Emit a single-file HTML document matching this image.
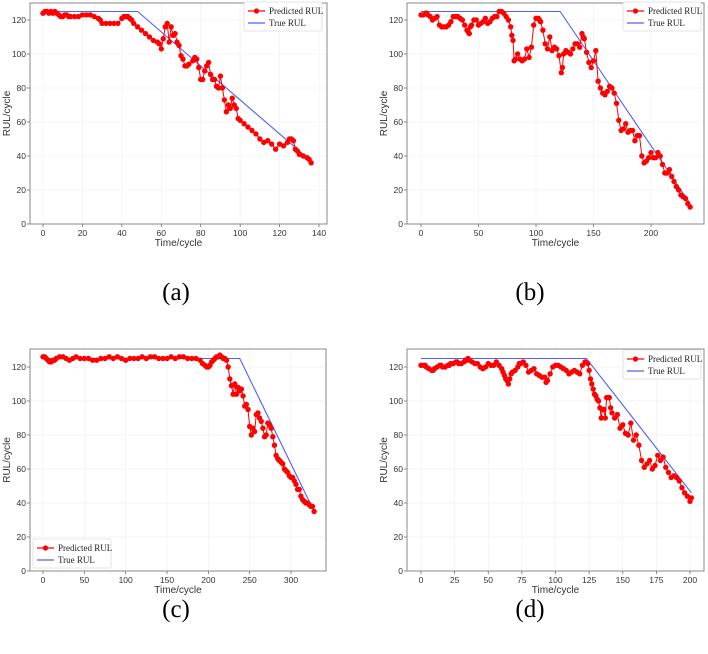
<!DOCTYPE html>
<html><head><meta charset="utf-8"><style>
body{margin:0;background:#fff;width:708px;height:654px;overflow:hidden}
svg{display:block}
</style></head><body>
<svg id="fig" width="708" height="654" xmlns="http://www.w3.org/2000/svg"></svg>
<script>
const aX=[0,1,2,3,4,5,6,7,8,9,10,11,12,13,14,16,18,20,22,24,26,28,29,30,32,34,36,38,40,41,42,43,44,45,46,48,50,52,54,56,58,59,60,61,62,63,64,65,66,67,68,69,70,71,72,73,74,76,77,78,79,80,81,82,83,84,85,86,87,88,89,90,91,92,93,94,95,96,97,98,99,100,102,104,106,108,110,112,114,116,118,120,122,124,125,126,127,128,129,130,132,134,135,136];
const aY=[124,125,125,124,125,124,125,124,123,122,122,123,123,122,122,122,122,123,123,123,122,121,120,118,118,118,118,118,121,122,122,122,121,120,118,116,114,112,110,108,107,106,103,109,116,118,107,116,111,112,107,105,99,97,93,93,94,96,98,97,92,85,85,90,93,95,88,85,85,81,80,87,80,73,66,70,68,74,70,68,62,61,59,57,55,53,50,48,49,47,44,47,46,48,50,50,49,44,43,41,40,39,38,36];
const aTrueX=[0,48,136];
const aTrueY=[125,125,37];
const bX=[0,2,4,5,6,8,10,12,14,16,18,20,22,24,26,28,30,32,34,36,38,40,41,42,43,44,46,48,50,52,54,56,58,60,62,64,66,68,70,72,74,76,78,79,80,81,82,84,86,88,90,92,94,96,98,100,102,103,104,106,108,110,112,114,116,118,120,122,123,124,126,128,130,132,134,136,138,140,141,142,144,146,148,150,152,154,156,158,160,162,164,166,168,170,172,174,176,178,180,182,184,186,188,190,192,194,196,198,200,202,204,206,208,210,212,214,216,218,220,222,224,226,228,230,232,234];
const bY=[123,123,124,124,123,122,120,121,122,117,116,116,116,117,119,122,122,122,121,120,117,114,113,112,116,117,120,120,117,118,119,121,118,119,121,122,122,125,125,124,122,120,116,111,108,96,97,100,97,96,97,103,98,104,117,121,121,120,119,114,106,103,110,102,104,103,99,89,92,100,102,101,100,103,106,106,104,112,110,109,101,95,92,96,102,84,80,77,76,78,81,80,77,71,61,55,56,59,54,55,55,49,52,52,40,36,37,39,42,39,39,42,40,35,30,30,32,28,25,22,20,17,16,15,12,10,9];
const bTrueX=[0,121,234];
const bTrueY=[125,125,12];
const cX=[0,2,4,6,8,10,12,14,16,20,24,28,32,36,40,45,50,55,60,65,70,75,80,85,90,95,100,105,110,115,120,125,130,135,140,145,150,155,160,165,170,175,180,185,190,193,196,198,200,202,204,206,208,210,212,214,216,218,220,222,224,226,228,230,232,234,236,238,240,242,244,246,248,250,252,254,256,258,260,262,264,266,268,270,272,274,276,278,280,282,284,286,288,290,292,294,296,298,300,302,304,306,308,310,312,314,316,318,320,322,324,326,328];
const cY=[126,126,125,124,123,123,124,124,125,126,126,125,124,125,126,125,125,125,124,124,125,125,126,125,126,125,124,125,125,125,126,125,126,126,125,125,125,126,125,126,126,125,125,125,124,122,121,120,120,121,123,124,125,126,126,127,126,125,125,124,120,113,109,104,110,104,108,106,107,103,97,98,95,85,80,84,82,92,93,90,88,84,79,80,87,86,84,79,74,68,66,65,64,63,60,59,58,56,55,55,53,51,48,48,44,42,41,40,40,39,38,38,35,34,32];
const cTrueX=[0,238,328];
const cTrueY=[125,125,35];
const dX=[0,2,3,4,6,8,9,10,12,14,15,16,18,20,21,22,24,26,27,28,30,32,33,34,35,36,38,40,42,44,46,48,50,52,54,56,58,60,61,62,63,64,65,66,67,68,70,72,73,74,76,78,80,82,84,86,88,90,92,93,94,96,98,100,102,104,106,108,110,112,114,116,118,120,122,124,125,126,127,128,129,130,131,132,133,134,135,136,137,138,139,140,141,142,144,146,148,150,152,154,156,158,160,162,164,166,168,170,172,174,176,178,180,182,184,186,188,190,192,194,196,198,200,201];
const dY=[121,121,121,120,119,118,118,119,120,121,121,120,120,121,121,122,122,123,123,122,122,123,124,124,125,124,123,122,122,120,119,120,122,121,121,123,121,119,117,115,113,112,110,113,116,117,118,120,122,122,123,121,117,118,119,116,115,114,114,111,112,116,120,121,121,120,119,118,116,117,118,117,116,121,123,122,118,113,110,107,104,103,101,100,96,90,95,95,90,102,102,102,96,93,90,92,84,86,81,80,87,77,80,74,65,61,63,65,60,62,68,65,67,61,58,55,56,55,53,49,46,44,41,43];
const dTrueX=[0,123,201];
const dTrueY=[125,125,46];
const yTicks=[0,20,40,60,80,100,120];
const aXTicks=[0,20,40,60,80,100,120,140];
const bXTicks=[0,50,100,150,200];
const cXTicks=[0,50,100,150,200,250,300];
const dXTicks=[0,25,50,75,100,125,150,175,200];

const NS='http://www.w3.org/2000/svg';
const svg=document.getElementById('fig');
function mk(t,a,p){const e=document.createElementNS(NS,t);for(const k in a)e.setAttribute(k,a[k]);(p||svg).appendChild(e);return e;}
const panels=[
 {id:'a',L:30,T:3,R:327,B:224,x0:43,px:276/140,xs:aX,ys:aY,tx:aTrueX,ty:aTrueY,ticks:aXTicks,leg:[244,2],cap:[176,291]},
 {id:'b',L:407,T:3,R:704,B:224,x0:421,px:230/200,xs:bX,ys:bY,tx:bTrueX,ty:bTrueY,ticks:bXTicks,leg:[623,2],cap:[530,291]},
 {id:'c',L:30,T:349,R:326,B:571,x0:43,px:248/300,xs:cX,ys:cY,tx:cTrueX,ty:cTrueY,ticks:cXTicks,leg:[33,539],cap:[176,608]},
 {id:'d',L:407,T:349,R:704,B:571,x0:421,px:269/200,xs:dX,ys:dY,tx:dTrueX,ty:dTrueY,ticks:dXTicks,leg:[623,350],cap:[530,608]}
];
panels.forEach(p=>{
 const g=mk('g',{});
 
 
 const sx=v=>p.x0+v*p.px, sy=v=>p.B-v*1.7;
 yTicks.forEach(v=>{
  const l=mk('line',{x1:p.L,x2:p.R,y1:sy(v),y2:sy(v),stroke:'#eee','stroke-width':0.6},g);
  
  const t=mk('text',{x:p.L-4,y:sy(v)+3,'text-anchor':'end','font-size':'8.5','font-family':'Liberation Sans, sans-serif',fill:'#333'},g);
  t.textContent=v;
  mk('line',{x1:p.L-3,x2:p.L,y1:sy(v),y2:sy(v),stroke:'#555','stroke-width':0.7},g);
 });
 p.ticks.forEach(v=>{
  const l=mk('line',{x1:sx(v),x2:sx(v),y1:p.T,y2:p.B,stroke:'#eee','stroke-width':0.6},g);
  
  mk('line',{x1:sx(v),x2:sx(v),y1:p.B,y2:p.B+3,stroke:'#555','stroke-width':0.7},g);
  const t=mk('text',{x:sx(v),y:p.B+12,'text-anchor':'middle','font-size':'8.5','font-family':'Liberation Sans, sans-serif',fill:'#333'},g);
  t.textContent=v;
 });
 const fr=mk('rect',{x:p.L,y:p.T,width:p.R-p.L,height:p.B-p.T,fill:'none',stroke:'#888','stroke-width':1},g);
 
 const tl=mk('polyline',{points:p.tx.map((x,i)=>sx(x)+','+sy(p.ty[i])).join(' '),fill:'none',stroke:'#5060ff','stroke-width':1.1},g);
 
 const pl=mk('polyline',{points:p.xs.map((x,i)=>sx(x)+','+sy(p.ys[i])).join(' '),fill:'none',stroke:'#f00','stroke-width':1},g);
 
 p.xs.forEach((x,i)=>{
  const c=mk('circle',{cx:sx(x),cy:sy(p.ys[i]),r:2.7,fill:'#f00'},g);
  
 });
 const xl=mk('text',{x:(p.L+p.R)/2,y:p.B+22,'text-anchor':'middle','font-size':'10','font-family':'Liberation Sans, sans-serif',fill:'#333'},g);
 xl.textContent='Time/cycle';
 const yl=mk('text',{x:0,y:0,transform:`translate(${p.L-20},${(p.T+p.B)/2}) rotate(-90)`,'text-anchor':'middle','font-size':'10','font-family':'Liberation Sans, sans-serif',fill:'#333'},g);
 yl.textContent='RUL/cycle';
 const lg=mk('g',{transform:`translate(${p.leg[0]},${p.leg[1]})`},g);
 
 mk('rect',{x:0,y:0,width:78,height:29,fill:'#fff',stroke:'#ddd','stroke-width':0.8,rx:2},lg);
 mk('line',{x1:4,x2:21,y1:9,y2:9,stroke:'#f00','stroke-width':1.2},lg);
 mk('circle',{cx:12.5,cy:9,r:2.6,fill:'#f00'},lg);
 mk('line',{x1:4,x2:21,y1:21,y2:21,stroke:'#5060ff','stroke-width':1.2},lg);
 const t1=mk('text',{x:25,y:12,'font-size':'9','font-family':'Liberation Serif, serif',fill:'#222'},lg);
 t1.textContent='Predicted RUL';
 const t2=mk('text',{x:25,y:24,'font-size':'9','font-family':'Liberation Serif, serif',fill:'#222'},lg);
 t2.textContent='True RUL';
 const cp=mk('text',{x:p.cap[0],y:p.cap[1]+9,'text-anchor':'middle','font-size':'25','font-family':'Liberation Serif, serif',fill:'#000'});
 cp.textContent='('+p.id+')';
});
</script>
</body></html>
